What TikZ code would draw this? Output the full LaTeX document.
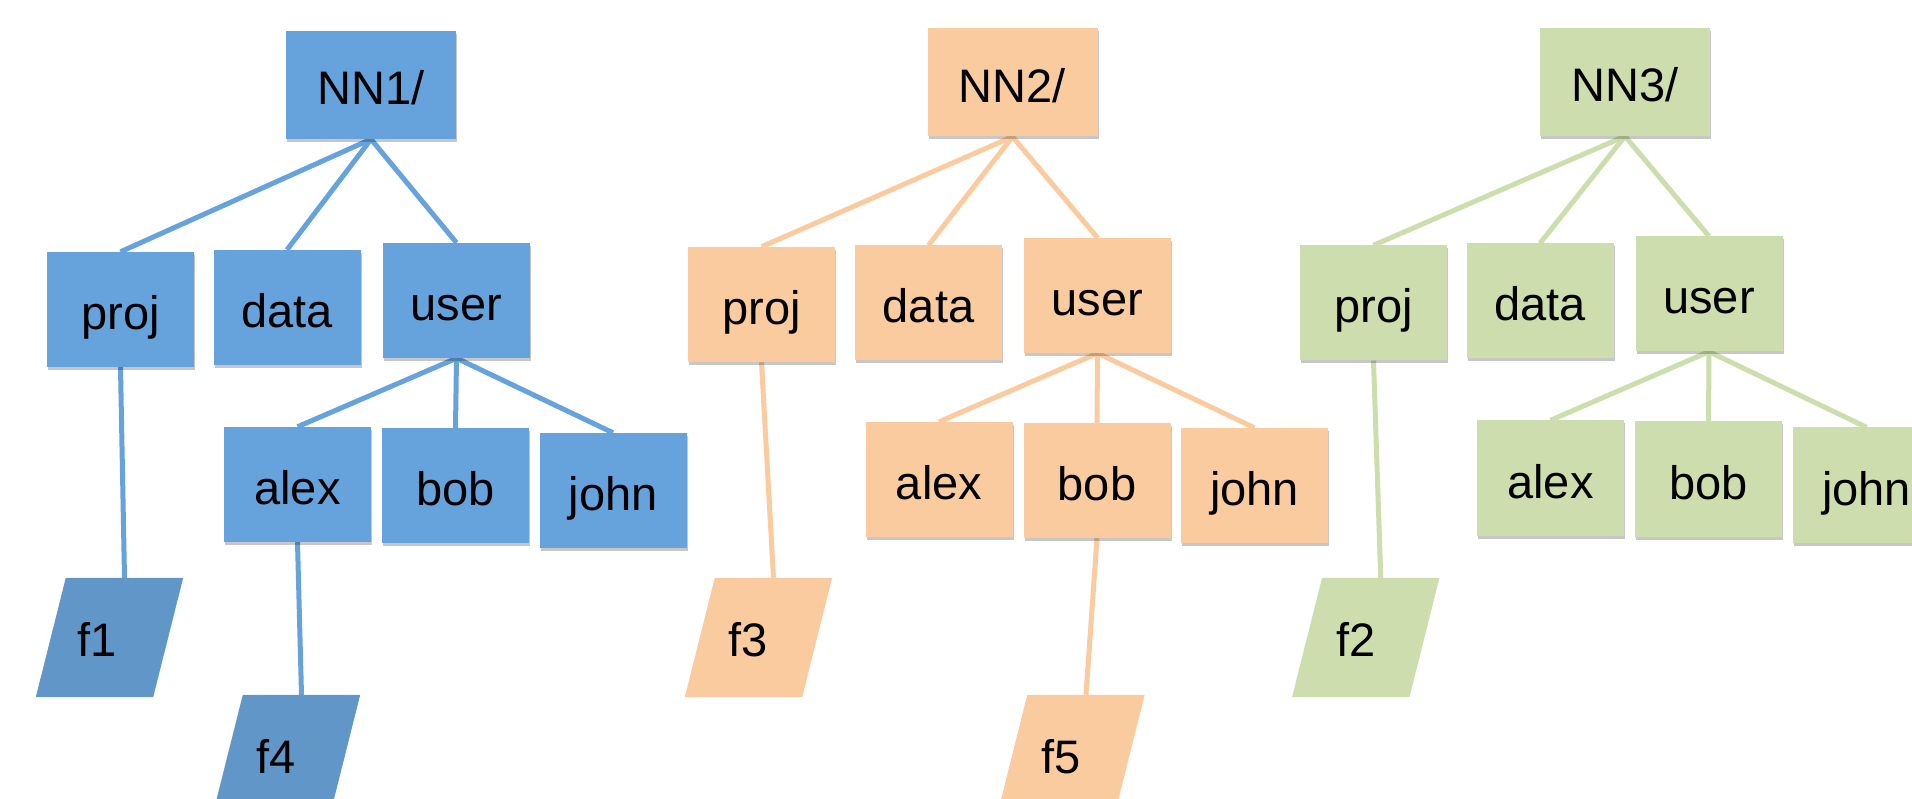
\documentclass[tikz,border=0pt]{standalone}
\usepackage{fontspec}
\setmainfont{Liberation Sans}
\usetikzlibrary{shadows}
\definecolor{bluebox}{HTML}{66A2DC}
\definecolor{bluefile}{HTML}{6196C9}
\definecolor{orangebox}{HTML}{FBCBA0}
\definecolor{greenbox}{HTML}{CDDDAD}
\pgfdeclarelayer{bg}
\pgfsetlayers{bg,main}
\newcommand\myfilefill[2]{\fill[#2] ([xshift=15pt]#1.north west) -- ([xshift=15pt]#1.north east) -- ([xshift=-15pt]#1.south east) -- ([xshift=-15pt]#1.south west) -- cycle;}
\tikzset{
  dirbox/.style={rectangle, inner sep=0pt, minimum width=147pt, minimum height=115pt,
    text height=44pt, text depth=4pt, font=\fontsize{47}{56}\selectfont,
    drop shadow={shadow xshift=1pt, shadow yshift=-3pt, opacity=0.22, fill=black}},
  rootbox/.style={dirbox, minimum width=170pt, minimum height=108pt},
  filebox/.style={rectangle, inner sep=0pt, minimum width=117pt, minimum height=119pt,
    text height=42pt, text depth=4pt, font=\fontsize{47}{56}\selectfont},
  link/.style={line width=5pt},
}
\begin{document}
\begin{tikzpicture}[x=1pt,y=-1pt]
\useasboundingbox (0,0) rectangle (1912,799);
% ---------- tree 1 (blue)
\node[rootbox, fill=bluebox] (nn1) at (371,85) {NN1/};
\node[dirbox, fill=bluebox] (proj1) at (120.5,309.5) {proj};
\node[dirbox, fill=bluebox] (data1) at (287,307.5) {data};
\node[dirbox, fill=bluebox] (user1) at (456.5,300.5) {user};
\node[dirbox, fill=bluebox] (alex1) at (297.5,484.5) {alex};
\node[dirbox, fill=bluebox] (bob1) at (455.5,485.5) {bob};
\node[dirbox, fill=bluebox] (john1) at (613,490.5) {john};
\node[filebox] (f1) at (109.5,637.5) {\hspace*{-24pt}f1};
\node[filebox] (f4) at (286.5,754.5) {\hspace*{-20pt}f4};
% ---------- tree 2 (orange)
\node[rootbox, fill=orangebox] (nn2) at (1012.5,82.5) {NN2/};
\node[dirbox, fill=orangebox] (proj2) at (761.5,304.5) {proj};
\node[dirbox, fill=orangebox] (data2) at (928.5,303) {data};
\node[dirbox, fill=orangebox] (user2) at (1097.5,295.5) {user};
\node[dirbox, fill=orangebox] (alex2) at (939,479.5) {alex};
\node[dirbox, fill=orangebox] (bob2) at (1097,480.5) {bob};
\node[dirbox, fill=orangebox] (john2) at (1254.5,485.5) {john};
\node[filebox] (f3) at (758.5,637.5) {\hspace*{-20pt}f3};
\node[filebox] (f5) at (1071,754.5) {\hspace*{-20pt}f5};
% ---------- tree 3 (green)
\node[rootbox, fill=greenbox] (nn3) at (1625,82) {NN3/};
\node[dirbox, fill=greenbox] (proj3) at (1373.5,303) {proj};
\node[dirbox, fill=greenbox] (data3) at (1540,301) {data};
\node[dirbox, fill=greenbox] (user3) at (1709,294) {user};
\node[dirbox, fill=greenbox] (alex3) at (1550.5,478) {alex};
\node[dirbox, fill=greenbox] (bob3) at (1708.5,479) {bob};
\node[dirbox, fill=greenbox] (john3) at (1866.5,485) {john};
\node[filebox] (f2) at (1365.75,637.5) {\hspace*{-20pt}f2};
\begin{pgfonlayer}{bg}
  \fill[white] (0,0) rectangle (1912,799);
  \myfilefill{f1}{bluefile}
  \myfilefill{f4}{bluefile}
  \myfilefill{f3}{orangebox}
  \myfilefill{f5}{orangebox}
  \myfilefill{f2}{greenbox}
  \begin{scope}[link, draw=bluebox]
    \draw (nn1.south) -- (proj1.north);
    \draw (nn1.south) -- (data1.north);
    \draw (nn1.south) -- (user1.north);
    \draw (user1.south) -- (alex1.north);
    \draw (user1.south) -- (bob1.north);
    \draw (user1.south) -- (john1.north);
    \draw (proj1.south) -- ([xshift=15pt]f1.north);
    \draw (alex1.south) -- ([xshift=15pt]f4.north);
  \end{scope}
  \begin{scope}[link, draw=orangebox]
    \draw (nn2.south) -- (proj2.north);
    \draw (nn2.south) -- (data2.north);
    \draw (nn2.south) -- (user2.north);
    \draw (user2.south) -- (alex2.north);
    \draw (user2.south) -- (bob2.north);
    \draw (user2.south) -- (john2.north);
    \draw (proj2.south) -- ([xshift=15pt]f3.north);
    \draw (bob2.south) -- ([xshift=15pt]f5.north);
  \end{scope}
  \begin{scope}[link, draw=greenbox]
    \draw (nn3.south) -- (proj3.north);
    \draw (nn3.south) -- (data3.north);
    \draw (nn3.south) -- (user3.north);
    \draw (user3.south) -- (alex3.north);
    \draw (user3.south) -- (bob3.north);
    \draw (user3.south) -- (john3.north);
    \draw (proj3.south) -- ([xshift=15pt]f2.north);
  \end{scope}
\end{pgfonlayer}
\end{tikzpicture}
\end{document}
